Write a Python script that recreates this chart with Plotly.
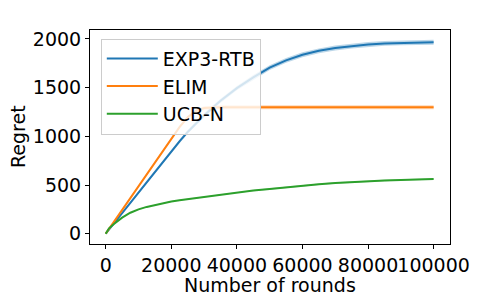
import plotly.graph_objects as go

rounds = [0, 1000, 2500, 5000, 7500, 10000, 12500, 15000, 17500, 20000, 22500, 25000, 27500,
          30000, 32500, 35000, 40000, 45000, 50000, 55000, 60000, 65000, 70000, 75000, 80000,
          85000, 90000, 95000, 100000]

exp3_rtb = [0, 42, 106, 212, 318, 425, 531, 638, 744, 850, 948, 1045, 1132,
            1215, 1292, 1365, 1495, 1605, 1705, 1780, 1838, 1878, 1907, 1928, 1944,
            1954, 1960, 1964, 1966]
exp3_sd = [0, 3, 5, 8, 10, 12, 14, 15, 16, 17, 18, 19, 20,
           21, 22, 22, 23, 24, 24, 25, 25, 25, 25, 25, 25,
           25, 25, 25, 25]

elim = [0, 49, 122, 245, 367, 490, 612, 735, 857, 980, 1095, 1195, 1260,
        1290, 1297, 1298, 1298, 1298, 1298, 1298, 1298, 1298, 1298, 1298, 1298,
        1298, 1298, 1298, 1298]
elim_sd = [0, 2, 3, 5, 6, 8, 9, 10, 11, 12, 14, 16, 18,
           20, 20, 20, 20, 20, 20, 20, 20, 20, 20, 20, 20,
           20, 20, 20, 20]

ucb_n = [0, 55, 100, 165, 215, 250, 275, 295, 313, 330, 343, 355, 365,
         377, 390, 402, 425, 443, 460, 478, 495, 508, 520, 530, 538,
         546, 552, 558, 562]
ucb_sd = [0, 1, 2, 3, 3, 4, 4, 4, 5, 5, 5, 5, 5,
          5, 5, 6, 6, 6, 6, 6, 6, 7, 7, 7, 7,
          7, 7, 7, 7]

names = ["EXP3-RTB", "ELIM", "UCB-N"]
colors = ["#1f77b4", "#ff7f0e", "#2ca02c"]
bands = ["rgba(31,119,180,0.3)", "rgba(255,127,14,0.3)", "rgba(44,160,44,0.3)"]

x_ticks = [0, 20000, 40000, 60000, 80000, 100000]
y_ticks = [0, 500, 1000, 1500, 2000]
x_title = "Number of rounds"
y_title = "Regret"

FS = 19

fig = go.Figure()
for name, vals, sd, col, band in zip(names, [exp3_rtb, elim, ucb_n],
                                     [exp3_sd, elim_sd, ucb_sd], colors, bands):
    upper = [v + s for v, s in zip(vals, sd)]
    lower = [v - s for v, s in zip(vals, sd)]
    fig.add_trace(go.Scatter(x=rounds, y=upper, mode="lines", line=dict(width=0),
                             showlegend=False, hoverinfo="skip", legendgroup=name))
    fig.add_trace(go.Scatter(x=rounds, y=lower, mode="lines", line=dict(width=0),
                             fill="tonexty", fillcolor=band, showlegend=False,
                             hoverinfo="skip", legendgroup=name))
    fig.add_trace(go.Scatter(x=rounds, y=vals, mode="lines", name=name,
                             line=dict(color=col, width=2), legendgroup=name))

axis_common = dict(
    showline=True, linecolor="black", linewidth=1, mirror=True,
    ticks="outside", ticklen=4, tickwidth=1, tickcolor="black",
    showgrid=False, zeroline=False, automargin=False, tickangle=0,
    tickfont=dict(size=FS, color="black"),
)

# page body has an 8px default margin, so the figure is offset by 8px (left/top)
fig.update_layout(
    width=492, height=289,
    margin=dict(l=82, r=50, t=22, b=53),
    paper_bgcolor="white", plot_bgcolor="white",
    font=dict(family="DejaVu Sans", size=FS, color="black"),
    xaxis=dict(range=[-4800, 105000], tickvals=x_ticks,
               ticktext=[str(v) for v in x_ticks], **axis_common),
    yaxis=dict(range=[-106, 2092], tickvals=y_ticks,
               ticktext=[str(v) for v in y_ticks], **axis_common),
    legend=dict(x=0.03, y=0.96, xanchor="left", yanchor="top",
                bgcolor="rgba(255,255,255,0.8)", bordercolor="#cccccc", borderwidth=1,
                font=dict(size=FS, color="black"), tracegroupgap=0,
                itemwidth=51),
    showlegend=True,
    annotations=[
        dict(text=x_title, xref="paper", yref="paper", x=0.5, y=0,
             xanchor="center", yanchor="middle", yshift=-41, showarrow=False,
             font=dict(size=FS, color="black")),
        dict(text=y_title, xref="paper", yref="paper", x=0, y=0.5,
             xanchor="center", yanchor="middle", xshift=-72, textangle=-90,
             showarrow=False, font=dict(size=FS, color="black")),
    ],
)

fig.write_html("out.html")
